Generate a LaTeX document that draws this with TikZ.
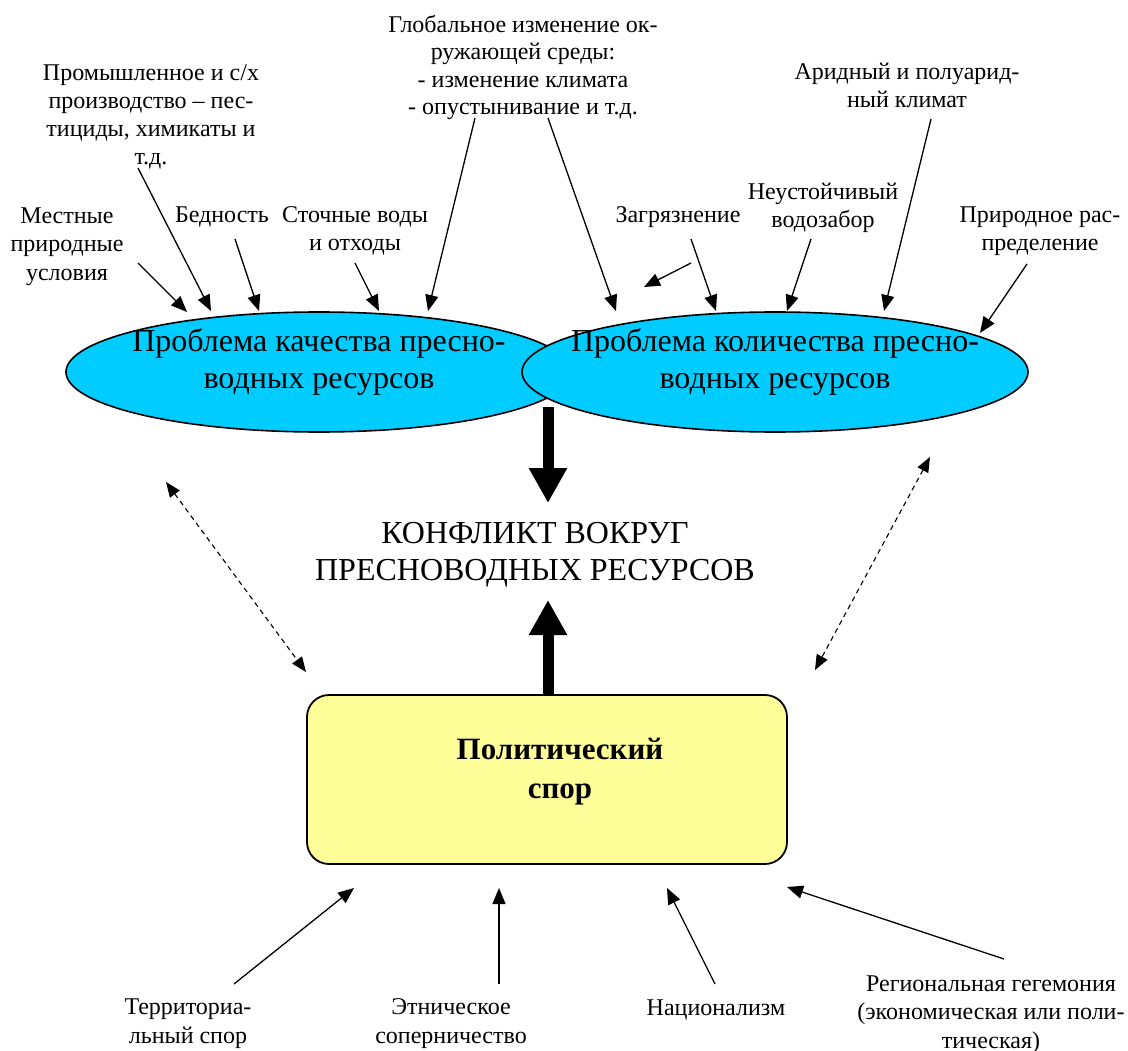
\documentclass[tikz,border=0pt]{standalone}
\usepackage{fontspec}
\setmainfont{Liberation Serif}
\usetikzlibrary{arrows.meta,shapes.geometric}
\definecolor{ellfill}{RGB}{0,204,255}
\definecolor{boxfill}{RGB}{255,255,153}
\tikzset{
  lbl/.style={align=center, font=\fontsize{24}{28.3}\selectfont, inner sep=0pt, anchor=base},
  bigtxt/.style={align=center, font=\fontsize{32}{36}\selectfont, inner sep=0pt, anchor=base},
  ell/.style={ellipse, draw=black, line width=1.6pt, fill=ellfill, minimum width=506pt, minimum height=120pt, inner sep=0pt},
  thinarr/.style={-{Triangle[length=16pt,width=13pt]}, line width=1.3pt},
  dasharr/.style={{Triangle[length=15pt,width=12pt]}-{Triangle[length=15pt,width=12pt]}, line width=1.1pt, dash pattern=on 5pt off 4pt},
  bigarr/.style={-{Triangle[length=35pt,width=36pt]}, line width=11pt},
  polbox/.style={draw=black, line width=1.8pt, fill=boxfill, rounded corners=22pt}
}
\begin{document}
\begin{tikzpicture}[x=1pt,y=-1pt]
\useasboundingbox (0,0) rectangle (1128,1051);
% ellipses (anchor=base is the baseline of the last line)
\node[ell] (qual) at (319,372) {};
\node[ell] (quant) at (775,372) {};
\node[bigtxt] (qualtxt) at (319,388) {Проблема качества пресно-\\водных ресурсов};
\node[bigtxt] (quanttxt) at (775,388) {Проблема количества пресно-\\водных ресурсов};
% political box
\draw[polbox] (307,695) rectangle (787,864);
\node[align=center, font=\fontsize{31}{39}\selectfont\bfseries, inner sep=0pt, anchor=base] (pol) at (560,798) {Политический\\спор};
\coordinate (boxtop) at (548,695);
% conflict
\node[align=center, font=\fontsize{32}{37}\selectfont, inner sep=0pt, anchor=base] (conf) at (535,580) {КОНФЛИКТ ВОКРУГ\\ПРЕСНОВОДНЫХ РЕСУРСОВ};
% top labels
\node[lbl] (prom) at (151,165) {Промышленное и с/х\\производство – пес-\\тициды, химикаты и\\т.д.};
\node[lbl] (mest) at (67,280) {Местные\\природные\\условия};
\node[lbl] (bedn) at (222,223) {Бедность};
\node[lbl] (stoch) at (355,251) {Сточные воды\\и отходы};
\node[lbl, font=\fontsize{24}{27.5}\selectfont] (glob) at (523,115) {Глобальное изменение ок-\\ружающей среды:\\- изменение климата\\- опустынивание и т.д.};
\node[lbl] (zagr) at (678,223) {Загрязнение};
\node[lbl] (neust) at (823,228) {Неустойчивый\\водозабор};
\node[lbl] (arid) at (907,108) {Аридный и полуарид-\\ный климат};
\node[lbl] (prir) at (1040,251) {Природное рас-\\пределение};
% bottom labels
\node[lbl] (terr) at (188,1043) {Территориа-\\льный спор};
\node[lbl] (etn) at (451,1043) {Этническое\\соперничество};
\node[lbl] (nac) at (716,1015) {Национализм};
\node[lbl] (reg) at (991,1048) {Региональная гегемония\\(экономическая или поли-\\тическая)};
% coordinates for arrows
\coordinate (s1) at (138,263); \coordinate (t1) at (187,312);
\coordinate (s2) at (138,168); \coordinate (t2) at (211,311);
\coordinate (s3) at (235,239); \coordinate (t3) at (259,311);
\coordinate (s4) at (355,263); \coordinate (t4) at (379,311);
\coordinate (s5) at (475,118); \coordinate (t5) at (428,311);
\coordinate (s6) at (548,118); \coordinate (t6) at (616,311);
\coordinate (s7) at (691,263); \coordinate (t7) at (644,287);
\coordinate (s8) at (691,239); \coordinate (t8) at (716,311);
\coordinate (s9) at (811,239); \coordinate (t9) at (787,311);
\coordinate (s10) at (931,119); \coordinate (t10) at (884,311);
\coordinate (s11) at (1027,264); \coordinate (t11) at (980,333);
\coordinate (d1a) at (166,482); \coordinate (d1b) at (306,672);
\coordinate (d2a) at (930,457); \coordinate (d2b) at (815,670);
\coordinate (b1s) at (234,984); \coordinate (b1t) at (354,888);
\coordinate (b2s) at (499,984); \coordinate (b2t) at (499,888);
\coordinate (b3s) at (715,984); \coordinate (b3t) at (667,888);
\coordinate (b4s) at (1004,959); \coordinate (b4t) at (787,887);
\coordinate (downs) at (548,407); \coordinate (downt) at (548,503);
\coordinate (upt) at (548,600);
% thin arrows
\foreach \i in {1,...,11} { \draw[thinarr] (s\i) -- (t\i); }
\draw[thinarr] (b1s) -- (b1t);
\draw[thinarr] (b2s) -- (b2t);
\draw[thinarr] (b3s) -- (b3t);
\draw[thinarr] (b4s) -- (b4t);
% dashed
\draw[dasharr] (d1a) -- (d1b);
\draw[dasharr] (d2a) -- (d2b);
% big arrows
\draw[bigarr] (downs) -- (downt);
\draw[bigarr] (boxtop) -- (upt);
\end{tikzpicture}
\end{document}
